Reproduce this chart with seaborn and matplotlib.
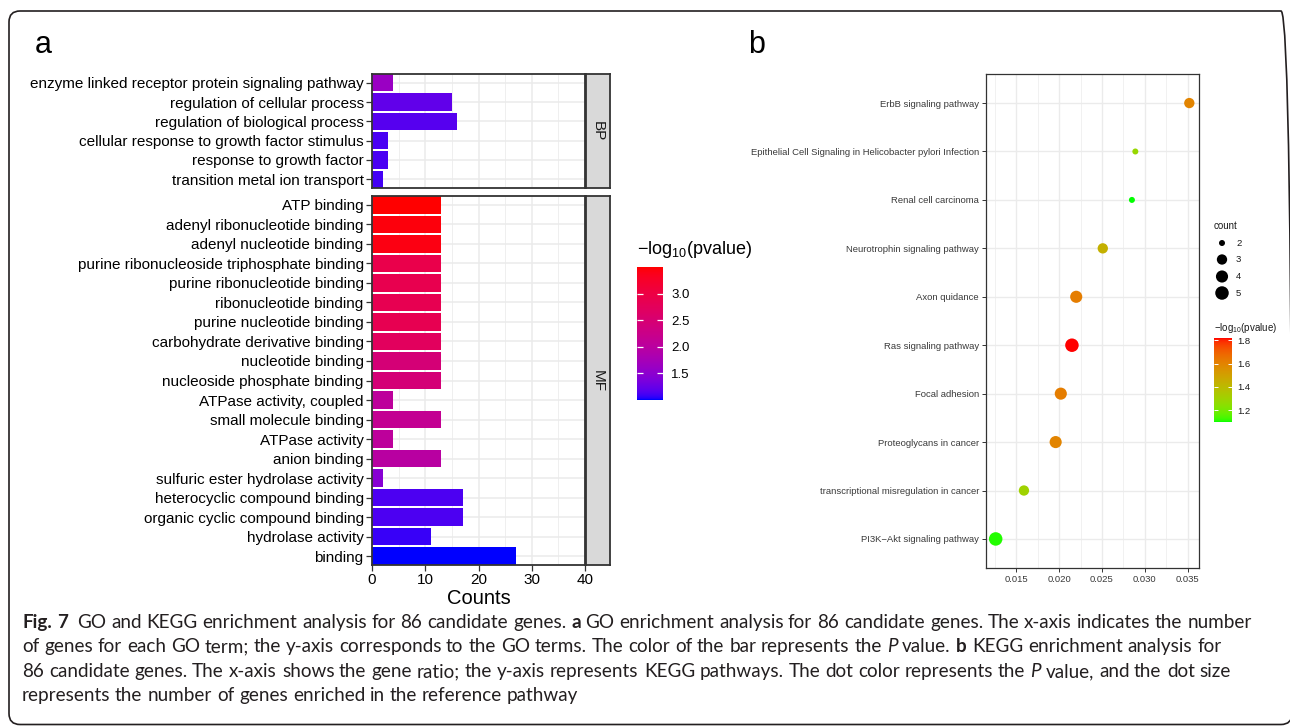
import numpy as np
import pandas as pd
import matplotlib
matplotlib.use("Agg")
import matplotlib as mpl
import matplotlib.pyplot as plt
import seaborn as sns
from matplotlib.colors import ListedColormap, Normalize, to_rgb
from matplotlib.patches import FancyBboxPatch
from matplotlib.ticker import MultipleLocator, FormatStrFormatter
from matplotlib.transforms import IdentityTransform

# ---------------- GO enrichment (panel a) ----------------
bp_terms = [
    "enzyme linked receptor protein signaling pathway",
    "regulation of cellular process",
    "regulation of biological process",
    "cellular response to growth factor stimulus",
    "response to growth factor",
    "transition metal ion transport",
]
bp_counts = [4, 15, 16, 3, 3, 2]
bp_logp = [1.62, 1.22, 1.17, 1.12, 1.12, 1.10]

mf_terms = [
    "ATP binding",
    "adenyl ribonucleotide binding",
    "adenyl nucleotide binding",
    "purine ribonucleoside triphosphate binding",
    "purine ribonucleotide binding",
    "ribonucleotide binding",
    "purine nucleotide binding",
    "carbohydrate derivative binding",
    "nucleotide binding",
    "nucleoside phosphate binding",
    "ATPase activity, coupled",
    "small molecule binding",
    "ATPase activity",
    "anion binding",
    "sulfuric ester hydrolase activity",
    "heterocyclic compound binding",
    "organic cyclic compound binding",
    "hydrolase activity",
    "binding",
]
mf_counts = [13, 13, 13, 13, 13, 13, 13, 13, 13, 13, 4, 13, 4, 13, 2, 17, 17, 11, 27]
mf_logp = [3.50, 3.45, 3.42, 2.92, 2.88, 2.86, 2.86, 2.72, 2.45, 2.45,
           2.05, 2.15, 2.05, 1.98, 1.45, 1.13, 1.13, 1.07, 1.00]

go_ticks = [0, 10, 20, 30, 40]
go_legend_ticks = [1.5, 2.0, 2.5, 3.0]

# ---------------- KEGG enrichment (panel b) ----------------
kegg_pathways = [
    "ErbB signaling pathway",
    "Epithelial Cell Signaling in Helicobacter pylori Infection",
    "Renal cell carcinoma",
    "Neurotrophin signaling pathway",
    "Axon quidance",
    "Ras signaling pathway",
    "Focal adhesion",
    "Proteoglycans in cancer",
    "transcriptional misregulation in cancer",
    "PI3K\u2212Akt signaling pathway",
]
kegg_ratio = [0.0352, 0.0289, 0.0285, 0.0251, 0.0220, 0.0215, 0.0202, 0.0196, 0.0159, 0.0126]
kegg_count = [3, 2, 2, 3, 4, 5, 4, 4, 3, 5]
kegg_logp = [1.60, 1.28, 1.10, 1.44, 1.62, 1.82, 1.62, 1.60, 1.30, 1.11]

kegg_ticks = [0.015, 0.020, 0.025, 0.030, 0.035]
kegg_legend_ticks = [1.2, 1.4, 1.6, 1.8]
count_levels = [2, 3, 4, 5]


# ---------------- colour ramps interpolated in CIELAB ----------------
_M = np.array([[0.4124564, 0.3575761, 0.1804375],
               [0.2126729, 0.7151522, 0.0721750],
               [0.0193339, 0.1191920, 0.9503041]])
_WHITE = np.array([0.95047, 1.0, 1.08883])
_D = 6 / 29


def rgb2lab(rgb):
    c = np.asarray(rgb, float)
    lin = np.where(c <= 0.04045, c / 12.92, ((c + 0.055) / 1.055) ** 2.4)
    t = (_M @ lin) / _WHITE
    f = np.where(t > _D ** 3, np.cbrt(t), t / (3 * _D ** 2) + 4 / 29)
    return np.array([116 * f[1] - 16, 500 * (f[0] - f[1]), 200 * (f[1] - f[2])])


def lab2rgb(lab):
    L, a, b = lab
    fy = (L + 16) / 116
    f = np.array([fy + a / 500, fy, fy - b / 200])
    t = np.where(f > _D, f ** 3, 3 * _D ** 2 * (f - 4 / 29))
    lin = np.linalg.solve(_M, t * _WHITE)
    lin = np.clip(lin, 0, 1)
    c = np.where(lin <= 0.0031308, 12.92 * lin, 1.055 * lin ** (1 / 2.4) - 0.055)
    return np.clip(c, 0, 1)


def lab_ramp(low, high, n=256):
    l0, l1 = rgb2lab(to_rgb(low)), rgb2lab(to_rgb(high))
    return ListedColormap([lab2rgb(l0 + (l1 - l0) * t) for t in np.linspace(0, 1, n)])


cmap_go = lab_ramp("#0000FF", "#FF0000")
cmap_kegg = lab_ramp("#00FF00", "#FF0000")
all_go = bp_logp + mf_logp
norm_go = Normalize(min(all_go), max(all_go))
norm_kegg = Normalize(min(kegg_logp), max(kegg_logp))

# ---------------- figure ----------------
plt.rcParams["font.family"] = ["Liberation Sans", "DejaVu Sans"]
plt.rcParams["mathtext.fontset"] = "custom"
plt.rcParams["mathtext.rm"] = "Liberation Sans"
plt.rcParams["mathtext.it"] = "Liberation Sans:italic"

W, H = 1290, 726
fig = plt.figure(figsize=(W / 100, H / 100), dpi=100)
fig.patch.set_facecolor("white")


def add_ax(x0, y0, x1, y1):
    return fig.add_axes([x0 / W, 1 - y1 / H, (x1 - x0) / W, (y1 - y0) / H])


def ftext(x, y, s, **kw):
    return fig.text(x / W, 1 - y / H, s, **kw)


# page frame
frame = FancyBboxPatch((9, 1.5), 1283, 713.5, boxstyle="round,pad=0,rounding_size=11",
                       transform=IdentityTransform(), facecolor="none",
                       edgecolor="#231F20", linewidth=1.2, zorder=0)
fig.patches.append(frame)

GRID = "#EBEBEB"
BORDER = "#333333"

# ---- panel a: faceted bar chart ----
ax_bp = add_ax(372, 74, 585, 188)
ax_mf = add_ax(372, 196, 585, 565)
facets = [(ax_bp, bp_terms, bp_counts, bp_logp, "BP", (74, 188)),
          (ax_mf, mf_terms, mf_counts, mf_logp, "MF", (196, 565))]

for ax, terms, counts, logp, name, (ya, yb) in facets:
    df = pd.DataFrame({"term": terms, "count": counts, "logp": logp})
    pal = {t: cmap_go(norm_go(v)) for t, v in zip(terms, logp)}
    sns.barplot(data=df, x="count", y="term", hue="term", palette=pal, order=terms,
                hue_order=terms, orient="h", width=0.9, saturation=1, errorbar=None,
                legend=False, linewidth=0, edgecolor="none", ax=ax)
    n = len(terms)
    ax.set_xlim(go_ticks[0], go_ticks[-1])
    ax.set_ylim(n - 1 + 0.45, -0.45)
    ax.set_xlabel("")
    ax.set_ylabel("")
    ax.xaxis.set_major_locator(mpl.ticker.FixedLocator(go_ticks))
    ax.xaxis.set_minor_locator(MultipleLocator(5))
    ax.set_axisbelow(True)
    ax.grid(False)
    ax.xaxis.grid(True, which="major", color=GRID, lw=1.1)
    ax.xaxis.grid(True, which="minor", color=GRID, lw=0.55)
    ax.yaxis.grid(True, which="major", color=GRID, lw=1.1)
    for sp in ax.spines.values():
        sp.set_color(BORDER)
        sp.set_linewidth(1.3)
    ax.tick_params(axis="both", which="major", length=4, width=0.9, color=BORDER,
                   labelsize=11, labelcolor="black", pad=2)
    ax.tick_params(axis="x", which="minor", length=0)

    strip = add_ax(586, ya, 610, yb)
    strip.set_facecolor("#D9D9D9")
    strip.set_xticks([])
    strip.set_yticks([])
    for sp in strip.spines.values():
        sp.set_color(BORDER)
        sp.set_linewidth(1.3)
    strip.text(0.5, 0.5, name, rotation=-90, ha="center", va="center",
               fontsize=11, color="#1A1A1A", transform=strip.transAxes)

ax_bp.tick_params(axis="x", which="both", bottom=False, labelbottom=False)
ftext(479, 598, "Counts", fontsize=14.5, ha="center", va="center", color="black")
ftext(35, 53, "a", fontsize=22, ha="left", va="baseline", color="black")

# legend of panel a
ftext(637, 254, r"$\mathrm{-log_{10}}$(pvalue)", fontsize=13, ha="left",
      va="baseline", color="black")
cax_a = add_ax(637, 267, 663, 400)
cb_a = fig.colorbar(mpl.cm.ScalarMappable(norm=norm_go, cmap=cmap_go), cax=cax_a,
                    ticks=go_legend_ticks)
cb_a.outline.set_visible(False)
cax_a.yaxis.set_major_formatter(FormatStrFormatter("%.1f"))
cax_a.tick_params(which="major", direction="in", length=4.5, width=0.9, color="white",
                  left=True, right=True, labelleft=False, labelright=True,
                  labelcolor="black", labelsize=9.5, pad=6)
cax_a.minorticks_off()

# ---- panel b: dot plot ----
ax_b = add_ax(986, 74, 1199, 568)
kdf = pd.DataFrame({"pathway": kegg_pathways, "ratio": kegg_ratio,
                    "count": kegg_count, "logp": kegg_logp})


def dot_diameter(c):
    # diameter in px, area-style scaling between smallest and largest count
    frac = (c - min(count_levels)) / (max(count_levels) - min(count_levels))
    return 6.0 + 7.5 * np.sqrt(frac)


size_map = {c: (dot_diameter(c) * 0.72) ** 2 for c in count_levels}

sns.scatterplot(data=kdf, x="ratio", y="pathway", hue="logp", palette=cmap_kegg,
                hue_norm=norm_kegg, size="count", sizes=size_map, legend=False,
                edgecolor="none", linewidth=0, ax=ax_b, zorder=3)
lo, hi = min(kegg_ratio), max(kegg_ratio)
pad = 0.05 * (hi - lo)
ax_b.set_xlim(lo - pad, hi + pad)
nk = len(kegg_pathways)
ax_b.set_ylim(nk - 1 + 0.6, -0.6)
ax_b.set_xlabel("")
ax_b.set_ylabel("")
ax_b.xaxis.set_major_locator(mpl.ticker.FixedLocator(kegg_ticks))
ax_b.xaxis.set_minor_locator(mpl.ticker.FixedLocator(
    [t - 0.0025 for t in kegg_ticks] + [kegg_ticks[-1] + 0.0025]))
ax_b.xaxis.set_major_formatter(FormatStrFormatter("%.3f"))
ax_b.set_axisbelow(True)
ax_b.grid(False)
ax_b.xaxis.grid(True, which="major", color=GRID, lw=1.0)
ax_b.xaxis.grid(True, which="minor", color=GRID, lw=0.5)
ax_b.yaxis.grid(True, which="major", color=GRID, lw=1.0)
for sp in ax_b.spines.values():
    sp.set_color(BORDER)
    sp.set_linewidth(0.9)
ax_b.tick_params(axis="both", which="major", length=3, width=0.7, color=BORDER,
                 labelsize=6.8, labelcolor="#3A3A3A", pad=2)
ax_b.tick_params(axis="x", which="minor", length=0)
ftext(748, 53, "b", fontsize=22, ha="left", va="baseline", color="black")

# size legend of panel b
ax_sz = add_ax(1200, 215, 1290, 300)
ax_sz.set_xlim(1200, 1290)
ax_sz.set_ylim(300, 215)
ax_sz.axis("off")
ax_sz.text(1214, 226, "count", fontsize=7, ha="left", va="center", color="#1A1A1A")
for c, yy in zip(count_levels, [243, 259.5, 276.5, 293]):
    ax_sz.scatter([1222], [yy], s=size_map[c], color="black", edgecolor="none")
    ax_sz.text(1236, yy, str(c), fontsize=6.8, ha="left", va="center", color="#1A1A1A")

# colour legend of panel b
ftext(1214, 331, r"$\mathrm{-log_{10}}$(pvalue)", fontsize=7, ha="left",
      va="baseline", color="#1A1A1A")
cax_b = add_ax(1214, 338, 1232, 422)
cb_b = fig.colorbar(mpl.cm.ScalarMappable(norm=norm_kegg, cmap=cmap_kegg), cax=cax_b,
                    ticks=kegg_legend_ticks)
cb_b.outline.set_visible(False)
cax_b.yaxis.set_major_formatter(FormatStrFormatter("%.1f"))
cax_b.tick_params(which="major", direction="in", length=3, width=0.7, color="white",
                  left=True, right=True, labelleft=False, labelright=True,
                  labelcolor="#1A1A1A", labelsize=6.8, pad=4)
cax_b.minorticks_off()

# ---------------- caption ----------------
CAP_FONT = ["Lato", "DejaVu Sans"]
CAP_COLOR = "#231F20"
caption = [
    [("Fig. 7", "bold"), ("", "gap"),
     ("GO and KEGG enrichment analysis for 86 candidate genes.", "normal"), ("a", "bold"),
     ("GO enrichment analysis for 86 candidate genes. The x-axis indicates the number", "normal")],
    [("of genes for each GO term; the y-axis corresponds to the GO terms. The color of the bar represents the", "normal"),
     ("P", "italic"), ("value.", "normal"), ("b", "bold"), ("KEGG enrichment analysis for", "normal")],
    [("86 candidate genes. The x-axis shows the gene ratio; the y-axis represents KEGG pathways. The dot color represents the", "normal"),
     ("P", "italic"), ("value, and the dot size", "normal")],
    [("represents the number of genes enriched in the reference pathway", "normal")],
]
baselines = [628, 652, 677, 701]
renderer = fig.canvas.get_renderer()


def style_kw(style, size):
    kw = dict(family=CAP_FONT, fontsize=size, color=CAP_COLOR)
    if style == "bold":
        kw["fontweight"] = "bold"
    if style == "italic":
        kw["fontstyle"] = "italic"
    return kw


def measure(s, kw):
    t = fig.text(0, 0, s, **kw)
    w = t.get_window_extent(renderer).width
    t.remove()
    return w


def layout_line(runs, size, y=None, x0=22.0, draw=False):
    # words are placed one after another with a measured inter-word space
    kw_n = style_kw("normal", size)
    space = measure("a a", kw_n) - measure("aa", kw_n)
    x = x0
    for text, style in runs:
        if style == "gap":
            x += space * 0.9
            continue
        kw = style_kw(style, size)
        for word in text.split(" "):
            w = measure(word, kw)
            if draw:
                fig.text(round(x), H - y, word, transform=IdentityTransform(),
                         ha="left", va="baseline", **kw)
            x += w + space
    return x - space


base_size = 13.0
end = layout_line(caption[0], base_size)
cap_size = base_size * (1250 - 22) / (end - 22)
for runs, yb in zip(caption, baselines):
    layout_line(runs, cap_size, y=yb, draw=True)

fig.savefig("out.png", dpi=100, facecolor="white")
